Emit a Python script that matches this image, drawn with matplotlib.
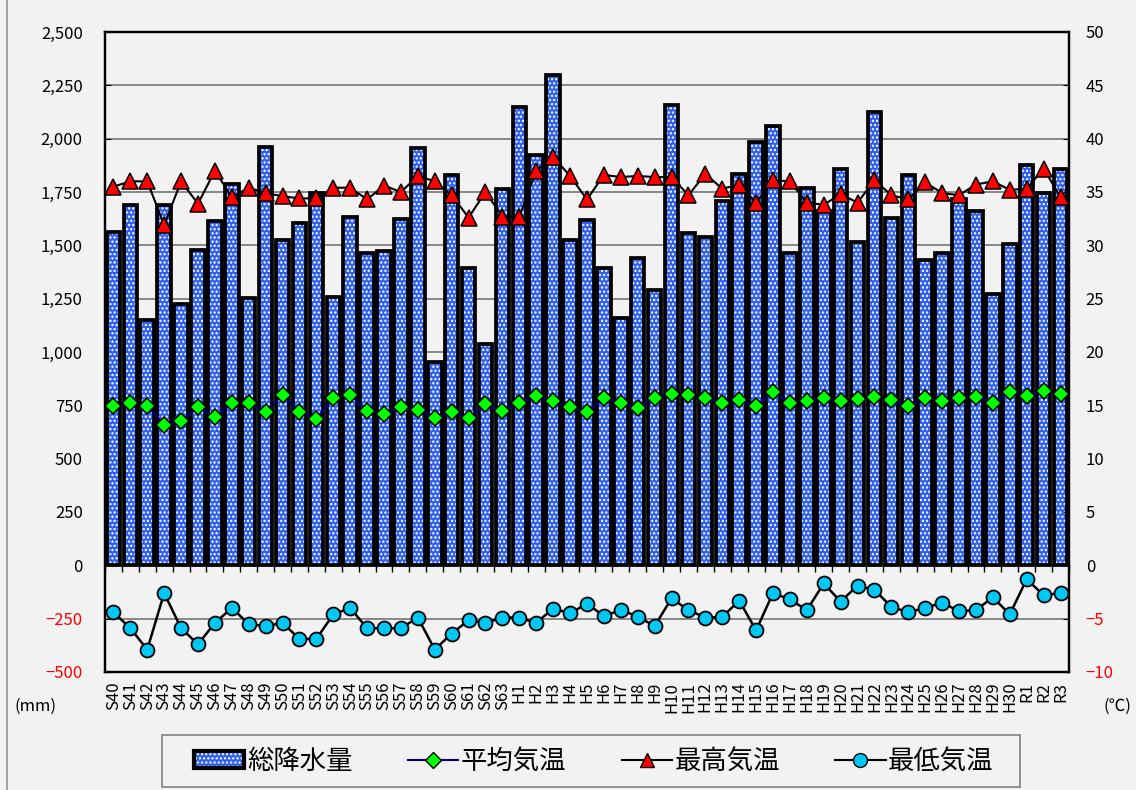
import numpy as np
import matplotlib.pyplot as plt
from matplotlib.patches import Patch, Rectangle
from matplotlib.lines import Line2D

plt.rcParams['font.family'] = ['Noto Sans CJK JP', 'DejaVu Sans']
plt.rcParams['hatch.linewidth'] = 1.1

# 年度ラベル (昭和40年〜令和3年)
years = [f"S{i}" for i in range(40, 64)] + [f"H{i}" for i in range(1, 31)] + ["R1", "R2", "R3"]

# 総降水量 (mm)
rain = [1562, 1688, 1152, 1690, 1223, 1477, 1612, 1789, 1255, 1963,
        1527, 1606, 1745, 1258, 1632, 1464, 1473, 1625, 1958, 951,
        1828, 1395, 1036, 1766, 2147, 1925, 2297, 1523, 1620, 1393,
        1159, 1439, 1292, 2160, 1560, 1539, 1708, 1836, 1983, 2060,
        1464, 1769, 1663, 1856, 1516, 2124, 1627, 1831, 1430, 1466,
        1718, 1661, 1274, 1505, 1875, 1747, 1857]

# 平均気温 (℃)
t_mean = [14.9, 15.2, 14.9, 13.2, 13.5, 14.8, 13.9, 15.25, 15.2, 14.4,
          16.0, 14.4, 13.75, 15.7, 16.0, 14.5, 14.2, 14.8, 14.6, 13.8,
          14.4, 13.8, 15.1, 14.5, 15.2, 15.9, 15.4, 14.8, 14.4, 15.7,
          15.2, 14.75, 15.7, 16.1, 16.0, 15.7, 15.25, 15.5, 14.9, 16.25,
          15.2, 15.4, 15.7, 15.4, 15.6, 15.8, 15.5, 14.9, 15.7, 15.4,
          15.7, 15.8, 15.25, 16.25, 15.9, 16.3, 16.1]

# 最高気温 (℃)
t_max = [35.5, 36.0, 36.0, 31.9, 36.0, 33.9, 37.0, 34.5, 35.4, 34.9,
         34.6, 34.4, 34.4, 35.4, 35.4, 34.3, 35.6, 35.0, 36.5, 36.0,
         34.7, 32.6, 35.0, 32.7, 32.7, 37.0, 38.3, 36.5, 34.3, 36.6,
         36.4, 36.5, 36.4, 36.4, 34.7, 36.7, 35.3, 35.7, 34.0, 36.1,
         36.0, 34.0, 33.8, 34.8, 34.0, 36.1, 34.7, 34.3, 35.9, 34.9,
         34.7, 35.7, 36.0, 35.2, 35.3, 37.2, 34.5]

# 最低気温 (℃)
t_min = [-4.4, -5.9, -7.9, -2.6, -5.9, -7.4, -5.4, -4.0, -5.5, -5.7,
         -5.4, -6.9, -6.9, -4.6, -4.0, -5.9, -5.9, -5.9, -4.9, -7.9,
         -6.4, -5.15, -5.4, -4.9, -4.9, -5.4, -4.05, -4.5, -3.6, -4.75,
         -4.2, -4.8, -5.7, -3.1, -4.2, -4.9, -4.85, -3.3, -6.1, -2.6,
         -3.2, -4.2, -1.7, -3.4, -1.9, -2.3, -3.9, -4.4, -4.0, -3.5,
         -4.3, -4.2, -3.0, -4.6, -1.3, -2.8, -2.6]

rain_ticks = list(range(-500, 2501, 250))
temp_ticks = list(range(-10, 51, 5))

BG = '#f2f2f2'
BLUE = '#2f5ff0'

fig = plt.figure(figsize=(11.36, 7.9), dpi=100, facecolor=BG)
ax = fig.add_axes([0.0924, 0.1494, 0.8486, 0.8101])
ax.set_facecolor(BG)
x = np.arange(len(years))

# 棒 (点模様 + 黒枠)
ax.bar(x, rain, width=0.8, color=BLUE, edgecolor='white', linewidth=0,
       hatch='....', zorder=2)
ax.bar(x, rain, width=0.8, facecolor='none', edgecolor='black',
       linewidth=2.7, zorder=3)

ax.set_xlim(-0.5, len(years) - 0.5)
ax.set_ylim(-500, 2500)
ax.set_yticks(rain_ticks,
              labels=[f"{v:,}".replace('-', '\u2212') for v in rain_ticks])
for t, v in zip(ax.get_yticklabels(), rain_ticks):
    t.set_color('red' if v < 0 else 'black')
ax.yaxis.grid(True, color='#7f7f7f', linewidth=1.3)
ax.set_axisbelow(True)
ax.tick_params(axis='y', direction='in', length=4, pad=16, labelsize=12,
               right=False)
ax.set_xticks(x, labels=years, rotation=90)
ax.tick_params(axis='x', length=0, pad=7, labelsize=12)
for s in ax.spines.values():
    s.set_linewidth(1.6)

# 0 の位置の横軸 (目盛り線付き)
sec = ax.secondary_xaxis(500 / 3000)
sec.set_xticks(np.arange(-0.5, len(years), 1.0))
sec.tick_params(axis='x', direction='out', length=5, width=1,
                labelbottom=False, labeltop=False)
sec.spines['bottom'].set_linewidth(1.6)

# 気温
ax2 = ax.twinx()
ax2.set_ylim(-10, 50)
ax2.plot(x, t_mean, color='#000080', lw=1.5, marker='D', ms=8,
         mfc='#00ff00', mec='black', mew=1.1, zorder=5)
ax2.plot(x, t_max, color='black', lw=1.5, marker='^', ms=11,
         mfc='#ff0000', mec='black', mew=1.1, zorder=5)
ax2.plot(x, t_min, color='black', lw=1.8, marker='o', ms=10,
         mfc='#00c8f5', mec='black', mew=1.3, zorder=5)
ax2.set_yticks(temp_ticks, labels=[str(v).replace('-', '\u2212') for v in temp_ticks])
for t, v in zip(ax2.get_yticklabels(), temp_ticks):
    t.set_color('red' if v < 0 else 'black')
ax2.tick_params(axis='y', direction='in', length=4, pad=12, labelsize=12)
for s in ax2.spines.values():
    s.set_linewidth(1.6)

fig.text(35 / 1136, 1 - 706 / 790, '(mm)', ha='center', va='center', fontsize=12)
fig.text(1117 / 1136, 1 - 706 / 790, '(℃)', ha='center', va='center', fontsize=12)

# 凡例
fig.add_artist(Rectangle((162 / 1136, 3 / 790), 858 / 1136, 52 / 790,
                         transform=fig.transFigure, facecolor=BG,
                         edgecolor='#808080', linewidth=1.2))
h_bar = (Patch(facecolor=BLUE, edgecolor='white', linewidth=0, hatch='....'),
         Patch(facecolor='none', edgecolor='black', linewidth=3))
h_mean = Line2D([], [], color='#000080', lw=1.5, marker='D', ms=8,
                mfc='#00ff00', mec='black')
h_max = Line2D([], [], color='black', lw=1.5, marker='^', ms=10,
               mfc='#ff0000', mec='black')
h_min = Line2D([], [], color='black', lw=1.5, marker='o', ms=10,
               mfc='#00c8f5', mec='black')
fig.legend([h_bar, h_mean, h_max, h_min],
           ['総降水量', '平均気温', '最高気温', '最低気温'],
           loc='center', bbox_to_anchor=(594 / 1136, 1 - 761 / 790),
           ncol=4, fontsize=19, handlelength=1.9, handleheight=0.6,
           handletextpad=0.1, columnspacing=2.1, borderpad=0.2,
           frameon=False)

fig.add_artist(Line2D([7 / 1136, 7 / 1136], [0, 1], color='#909090', lw=1.2,
                      transform=fig.transFigure))

fig.savefig('out.png', dpi=100, facecolor=BG)
